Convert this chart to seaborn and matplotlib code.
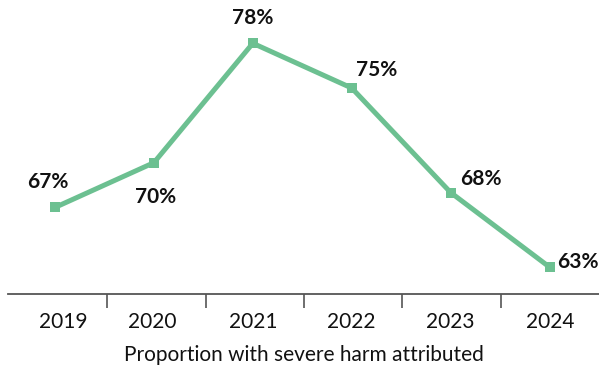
import matplotlib
matplotlib.use("Agg")
import matplotlib.pyplot as plt
import matplotlib.transforms as mtrans
import seaborn as sns
import pandas as pd

years = ['2019', '2020', '2021', '2022', '2023', '2024']
share = [67, 70, 78, 75, 68, 63]
labels = ['67%', '70%', '78%', '75%', '68%', '63%']
# label offsets in pixels from each point
offsets = [(-7, 25), (2, -34), (0, 25), (25, 18), (30, 14), (28, 5)]

df = pd.DataFrame({'year': range(len(years)), 'share': share})

sns.set_style('white')
plt.rcParams['font.family'] = ['Lato', 'DejaVu Sans']

fig = plt.figure(figsize=(5.99, 3.69), dpi=100)
ax = fig.add_axes([0.0134, 0.2033, 0.9866, 0.7967])

green = '#6cc091'
sns.lineplot(data=df, x='year', y='share', ax=ax, color=green, linewidth=3.6,
             marker='s', markersize=6.5, markeredgewidth=0, markerfacecolor=green)

for i, (v, lab) in enumerate(zip(share, labels)):
    ax.annotate(lab, (i, v), xytext=offsets[i], textcoords='offset pixels',
                ha='center', va='center', fontsize=15, fontweight='bold', color='#111111')

ax.set_xlim(-0.475, 5.5)
ax.set_ylim(61.2, 80.9)

for s in ['top', 'right', 'left']:
    ax.spines[s].set_visible(False)
ax.spines['bottom'].set_color('#555555')
ax.spines['bottom'].set_linewidth(1.3)

ax.set_xticks(range(len(years)))
ax.set_xticklabels(years, fontsize=15, color='#111111')
ax.set_xticks([0.53, 1.53, 2.52, 3.51, 4.51], minor=True)
ax.tick_params(axis='x', which='major', length=0, pad=13)
ax.tick_params(axis='x', which='minor', bottom=True, length=10, width=1.2,
               color='#555555', direction='out')
ax.set_yticks([])
ax.set_ylabel('')
ax.set_xlabel('Proportion with severe harm attributed', fontsize=15, color='#111111', labelpad=9)

# small horizontal nudges of year labels, as in the original
nudges = [8, -2, 0, 0, 0, 1]
for lbl, dx in zip(ax.get_xticklabels(), nudges):
    lbl.set_transform(lbl.get_transform() + mtrans.ScaledTranslation(dx / 100, 0, fig.dpi_scale_trans))

fig.savefig('out.png', dpi=100)
